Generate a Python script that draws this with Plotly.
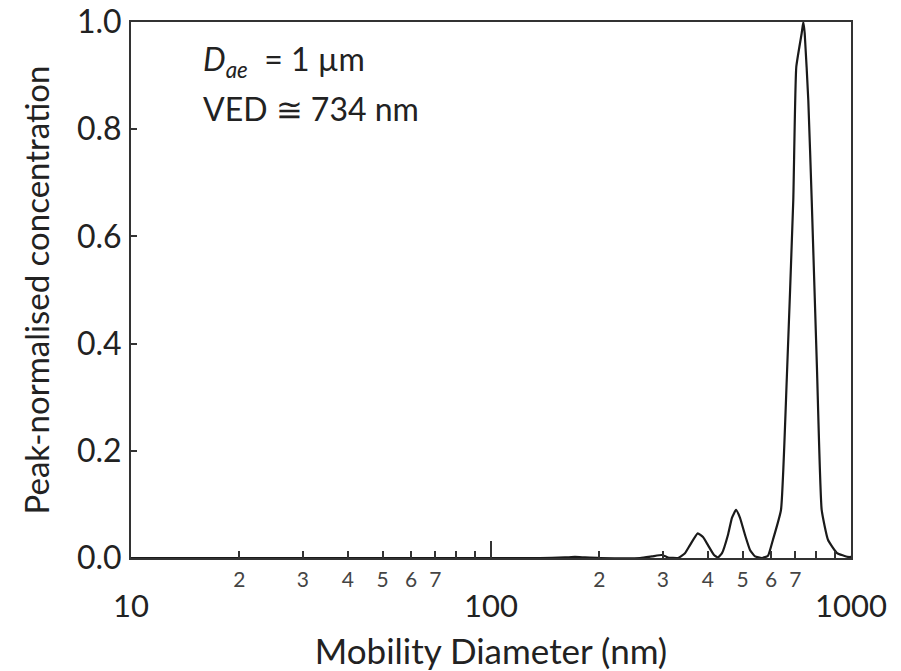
import plotly.graph_objects as go

# Mobility diameter (nm) and peak-normalised concentration
diameter_nm = [10, 136.8, 160.5, 171.1, 182.4, 200.8, 259.4, 280.0, 298.5, 310.0,
               330.7, 345.8, 357.0, 375.2, 388.0, 400.6, 416.4, 427.2, 438.2, 455.2,
               467.0, 479.3, 491.7, 507.7, 524.2, 541.2, 566.0, 588.0, 607.0, 639.0,
               663.0, 691.3, 704.7, 729.5, 737.0, 743.7, 761.0, 777.8, 804.6, 829.0,
               863.0, 914.5, 981.0, 1000.0]
concentration = [0.0, 0.0, 0.001, 0.002, 0.001, 0.0, 0.0, 0.003, 0.0056, 0.001,
                 0.0, 0.009, 0.024, 0.046, 0.039, 0.024, 0.0056, 0.001, 0.009, 0.043,
                 0.075, 0.0896, 0.075, 0.043, 0.015, 0.003, 0.0, 0.004, 0.034, 0.0896,
                 0.332, 0.668, 0.916, 0.979, 1.0, 0.979, 0.854, 0.668, 0.351, 0.0896,
                 0.034, 0.0093, 0.002, 0.002]

major_ticks = [10, 100, 1000]
major_labels = ["10", "100", "1000"]
minor_tick_positions = [20, 30, 40, 50, 60, 70, 80, 90, 200, 300, 400, 500, 600, 700, 800, 900]
minor_label_positions = [20, 30, 40, 50, 60, 70, 200, 300, 400, 500, 600, 700]
minor_labels = ["2", "3", "4", "5", "6", "7", "2", "3", "4", "5", "6", "7"]
y_ticks = [0.0, 0.2, 0.4, 0.6, 0.8, 1.0]

FONT = "Lato"
AX = "#333333"
TXT = "#222222"

fig = go.Figure()
fig.add_trace(go.Scatter(x=diameter_nm, y=concentration, mode="lines",
                         line=dict(color="#1a1a1a", width=2.2, shape="spline", smoothing=0.4),
                         showlegend=False, hoverinfo="skip"))
fig.add_trace(go.Scatter(x=[10, 1000], y=[0, 0], xaxis="x2", mode="lines",
                         line=dict(width=0), showlegend=False, hoverinfo="skip"))

fig.update_layout(
    width=901, height=671,
    margin=dict(l=131, r=50, t=22, b=113, autoexpand=False),
    paper_bgcolor="white", plot_bgcolor="white",
    font=dict(family=FONT, color=TXT),
    xaxis=dict(type="log", range=[1, 3], tickvals=major_ticks, ticktext=major_labels,
               ticks="inside", ticklen=17, tickwidth=2, tickcolor=AX,
               minor=dict(tickvals=minor_tick_positions, ticks="inside", ticklen=7,
                          tickwidth=2, tickcolor=AX, showgrid=False),
               showline=True, linecolor=AX, linewidth=2, mirror=True,
               showgrid=False, zeroline=False, automargin=False,
               tickfont=dict(size=31, family=FONT, color=TXT),
               ticklabelstandoff=20, ticklabeloverflow="allow",
               title=dict(text="Mobility Diameter (nm)", font=dict(size=35, family=FONT, color=TXT),
                          standoff=18)),
    xaxis2=dict(type="log", range=[1, 3], overlaying="x", side="bottom", anchor="y",
                tickvals=minor_label_positions, ticktext=minor_labels,
                ticks="", showline=False, showgrid=False, zeroline=False, automargin=False,
                tickfont=dict(size=21, family=FONT, color="#444444"),
                ticklabelstandoff=7),
    yaxis=dict(range=[0, 1], tickvals=y_ticks, tickformat=".1f",
               ticks="inside", ticklen=6, tickwidth=2, tickcolor=AX,
               showline=True, linecolor=AX, linewidth=2, mirror=True,
               showgrid=False, zeroline=False, automargin=False,
               tickfont=dict(size=32, family=FONT, color=TXT),
               ticklabelstandoff=1, ticklabeloverflow="allow",
               title=dict(text="Peak-normalised concentration",
                          font=dict(size=33, family=FONT, color=TXT), standoff=17)),
    annotations=[
        dict(x=0.097, y=0.927, xref="paper", yref="paper", xanchor="left", yanchor="middle",
             text="<i>D</i><sub><i>ae</i></sub>  = 1 µm", showarrow=False,
             font=dict(size=32, family=FONT, color=TXT)),
        dict(x=0.097, y=0.838, xref="paper", yref="paper", xanchor="left", yanchor="middle",
             text="VED ≅ 734 nm", showarrow=False,
             font=dict(size=32, family=FONT, color=TXT)),
    ],
)

fig.write_html("out.html", config={"displayModeBar": False},
               post_script="document.body.style.margin='0';document.body.style.overflow='hidden';")
